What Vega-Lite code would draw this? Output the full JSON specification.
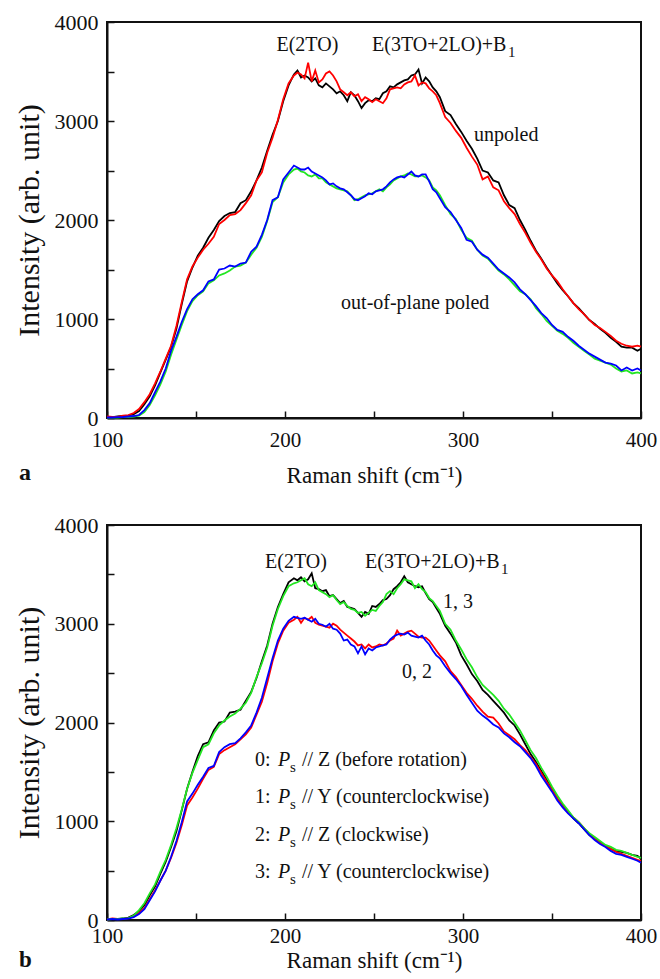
{
"$schema": "https://vega.github.io/schema/vega-lite/v6.json",
"padding": {"left": 13, "top": 10, "right": 8, "bottom": 2},
"spacing": 25,
"config": {
  "view": {"stroke": "#111", "strokeWidth": 2},
  "axis": {"grid": false, "domainColor": "#111", "domainWidth": 2, "tickColor": "#111", "tickWidth": 1.5, "tickSize": -7, "labelFont": "serif", "labelFontSize": 21, "labelColor": "#111", "titleFont": "Times New Roman", "titleFontWeight": "normal", "titleColor": "#111", "labelOverlap": false},
  "text": {"font": "serif", "fontSize": 20, "color": "#111"},
  "title": {"font": "serif"}
},
"datasets": {
"a": [
{"s":"k","x":100,"y":5},{"s":"k","x":103,"y":8},{"s":"k","x":106,"y":15},{"s":"k","x":109,"y":20},{"s":"k","x":112,"y":25},{"s":"k","x":115,"y":40},{"s":"k","x":118,"y":70},{"s":"k","x":121,"y":140},{"s":"k","x":124,"y":220},{"s":"k","x":127,"y":330},{"s":"k","x":130,"y":460},{"s":"k","x":133,"y":590},{"s":"k","x":136,"y":720},{"s":"k","x":139,"y":900},{"s":"k","x":142,"y":1150},{"s":"k","x":145,"y":1380},{"s":"k","x":148,"y":1520},{"s":"k","x":151,"y":1640},{"s":"k","x":154,"y":1720},{"s":"k","x":157,"y":1820},{"s":"k","x":160,"y":1900},{"s":"k","x":163,"y":1990},{"s":"k","x":166,"y":2040},{"s":"k","x":169,"y":2070},{"s":"k","x":172,"y":2080},{"s":"k","x":175,"y":2170},{"s":"k","x":178,"y":2200},{"s":"k","x":181,"y":2290},{"s":"k","x":184,"y":2400},{"s":"k","x":187,"y":2530},{"s":"k","x":190,"y":2700},{"s":"k","x":193,"y":2860},{"s":"k","x":196,"y":3000},{"s":"k","x":199,"y":3200},{"s":"k","x":202,"y":3360},{"s":"k","x":205,"y":3470},
{"s":"k","x":207,"y":3510},{"s":"k","x":209,"y":3440},{"s":"k","x":211,"y":3460},{"s":"k","x":213,"y":3440},{"s":"k","x":215,"y":3400},{"s":"k","x":217,"y":3430},{"s":"k","x":219,"y":3360},{"s":"k","x":221,"y":3340},{"s":"k","x":223,"y":3380},{"s":"k","x":225,"y":3350},{"s":"k","x":227,"y":3320},{"s":"k","x":229,"y":3280},{"s":"k","x":231,"y":3300},{"s":"k","x":233,"y":3260},{"s":"k","x":235,"y":3200},{"s":"k","x":237,"y":3290},{"s":"k","x":239,"y":3260},{"s":"k","x":241,"y":3200},{"s":"k","x":243,"y":3130},{"s":"k","x":245,"y":3180},{"s":"k","x":247,"y":3210},{"s":"k","x":249,"y":3200},{"s":"k","x":251,"y":3230},{"s":"k","x":253,"y":3220},{"s":"k","x":255,"y":3280},{"s":"k","x":257,"y":3300},{"s":"k","x":259,"y":3350},{"s":"k","x":261,"y":3340},{"s":"k","x":263,"y":3370},{"s":"k","x":265,"y":3390},{"s":"k","x":267,"y":3410},{"s":"k","x":269,"y":3420},{"s":"k","x":271,"y":3460},{"s":"k","x":273,"y":3470},{"s":"k","x":275,"y":3520},{"s":"k","x":277,"y":3380},{"s":"k","x":279,"y":3440},{"s":"k","x":281,"y":3400},{"s":"k","x":283,"y":3340},{"s":"k","x":285,"y":3300},{"s":"k","x":287,"y":3240},
{"s":"k","x":290,"y":3100},{"s":"k","x":293,"y":3060},{"s":"k","x":296,"y":2970},{"s":"k","x":299,"y":2890},{"s":"k","x":302,"y":2800},{"s":"k","x":305,"y":2720},{"s":"k","x":308,"y":2620},{"s":"k","x":311,"y":2500},{"s":"k","x":314,"y":2480},{"s":"k","x":317,"y":2400},{"s":"k","x":320,"y":2380},{"s":"k","x":323,"y":2250},{"s":"k","x":326,"y":2150},{"s":"k","x":329,"y":2120},{"s":"k","x":332,"y":2000},{"s":"k","x":335,"y":1900},{"s":"k","x":338,"y":1790},{"s":"k","x":341,"y":1690},{"s":"k","x":344,"y":1610},{"s":"k","x":347,"y":1520},{"s":"k","x":350,"y":1440},{"s":"k","x":353,"y":1360},{"s":"k","x":356,"y":1290},{"s":"k","x":359,"y":1230},{"s":"k","x":362,"y":1160},{"s":"k","x":365,"y":1110},{"s":"k","x":368,"y":1050},{"s":"k","x":371,"y":990},{"s":"k","x":374,"y":950},{"s":"k","x":377,"y":900},{"s":"k","x":380,"y":860},{"s":"k","x":383,"y":810},{"s":"k","x":386,"y":770},{"s":"k","x":389,"y":720},{"s":"k","x":392,"y":710},{"s":"k","x":395,"y":710},{"s":"k","x":398,"y":680},{"s":"k","x":400,"y":700},
{"s":"g","x":100,"y":5},{"s":"g","x":103,"y":3},{"s":"g","x":106,"y":5},{"s":"g","x":109,"y":8},{"s":"g","x":112,"y":10},{"s":"g","x":115,"y":15},{"s":"g","x":118,"y":25},{"s":"g","x":121,"y":60},{"s":"g","x":124,"y":130},{"s":"g","x":127,"y":230},{"s":"g","x":130,"y":340},{"s":"g","x":133,"y":470},{"s":"g","x":136,"y":640},{"s":"g","x":139,"y":790},{"s":"g","x":142,"y":940},{"s":"g","x":145,"y":1080},{"s":"g","x":148,"y":1180},{"s":"g","x":151,"y":1240},{"s":"g","x":154,"y":1280},{"s":"g","x":157,"y":1360},{"s":"g","x":160,"y":1390},{"s":"g","x":163,"y":1440},{"s":"g","x":166,"y":1460},{"s":"g","x":169,"y":1490},{"s":"g","x":172,"y":1530},{"s":"g","x":175,"y":1540},{"s":"g","x":178,"y":1570},{"s":"g","x":181,"y":1650},{"s":"g","x":184,"y":1720},{"s":"g","x":187,"y":1830},{"s":"g","x":190,"y":1990},{"s":"g","x":193,"y":2180},{"s":"g","x":196,"y":2230},{"s":"g","x":199,"y":2380},{"s":"g","x":202,"y":2460},{"s":"g","x":205,"y":2510},
{"s":"g","x":207,"y":2520},{"s":"g","x":209,"y":2490},{"s":"g","x":211,"y":2480},{"s":"g","x":213,"y":2450},{"s":"g","x":215,"y":2440},{"s":"g","x":217,"y":2460},{"s":"g","x":219,"y":2420},{"s":"g","x":221,"y":2420},{"s":"g","x":223,"y":2380},{"s":"g","x":225,"y":2360},{"s":"g","x":227,"y":2340},{"s":"g","x":229,"y":2320},{"s":"g","x":231,"y":2310},{"s":"g","x":233,"y":2300},{"s":"g","x":235,"y":2290},{"s":"g","x":237,"y":2250},{"s":"g","x":239,"y":2200},{"s":"g","x":241,"y":2210},{"s":"g","x":243,"y":2230},{"s":"g","x":245,"y":2250},{"s":"g","x":247,"y":2260},{"s":"g","x":249,"y":2270},{"s":"g","x":251,"y":2290},{"s":"g","x":253,"y":2310},{"s":"g","x":255,"y":2290},{"s":"g","x":257,"y":2330},{"s":"g","x":259,"y":2360},{"s":"g","x":261,"y":2400},{"s":"g","x":263,"y":2420},{"s":"g","x":265,"y":2440},{"s":"g","x":267,"y":2450},{"s":"g","x":269,"y":2470},{"s":"g","x":271,"y":2460},{"s":"g","x":273,"y":2440},{"s":"g","x":275,"y":2440},{"s":"g","x":277,"y":2450},{"s":"g","x":279,"y":2430},{"s":"g","x":281,"y":2400},{"s":"g","x":283,"y":2330},{"s":"g","x":285,"y":2300},{"s":"g","x":287,"y":2250},
{"s":"g","x":290,"y":2150},{"s":"g","x":293,"y":2060},{"s":"g","x":296,"y":2010},{"s":"g","x":299,"y":1900},{"s":"g","x":302,"y":1820},{"s":"g","x":305,"y":1790},{"s":"g","x":308,"y":1700},{"s":"g","x":311,"y":1640},{"s":"g","x":314,"y":1610},{"s":"g","x":317,"y":1550},{"s":"g","x":320,"y":1490},{"s":"g","x":323,"y":1450},{"s":"g","x":326,"y":1400},{"s":"g","x":329,"y":1340},{"s":"g","x":332,"y":1280},{"s":"g","x":335,"y":1250},{"s":"g","x":338,"y":1200},{"s":"g","x":341,"y":1110},{"s":"g","x":344,"y":1050},{"s":"g","x":347,"y":980},{"s":"g","x":350,"y":930},{"s":"g","x":353,"y":880},{"s":"g","x":356,"y":850},{"s":"g","x":359,"y":810},{"s":"g","x":362,"y":760},{"s":"g","x":365,"y":720},{"s":"g","x":368,"y":680},{"s":"g","x":371,"y":640},{"s":"g","x":374,"y":600},{"s":"g","x":377,"y":580},{"s":"g","x":380,"y":560},{"s":"g","x":383,"y":540},{"s":"g","x":386,"y":500},{"s":"g","x":389,"y":470},{"s":"g","x":392,"y":480},{"s":"g","x":395,"y":450},{"s":"g","x":398,"y":460},{"s":"g","x":400,"y":450},
{"s":"r","x":100,"y":15},{"s":"r","x":103,"y":10},{"s":"r","x":106,"y":12},{"s":"r","x":109,"y":25},{"s":"r","x":112,"y":30},{"s":"r","x":115,"y":50},{"s":"r","x":118,"y":90},{"s":"r","x":121,"y":160},{"s":"r","x":124,"y":240},{"s":"r","x":127,"y":350},{"s":"r","x":130,"y":470},{"s":"r","x":133,"y":600},{"s":"r","x":136,"y":730},{"s":"r","x":139,"y":930},{"s":"r","x":142,"y":1170},{"s":"r","x":145,"y":1400},{"s":"r","x":148,"y":1530},{"s":"r","x":151,"y":1620},{"s":"r","x":154,"y":1700},{"s":"r","x":157,"y":1760},{"s":"r","x":160,"y":1830},{"s":"r","x":163,"y":1960},{"s":"r","x":166,"y":2000},{"s":"r","x":169,"y":2050},{"s":"r","x":172,"y":2060},{"s":"r","x":175,"y":2100},{"s":"r","x":178,"y":2170},{"s":"r","x":181,"y":2250},{"s":"r","x":184,"y":2400},{"s":"r","x":187,"y":2480},{"s":"r","x":190,"y":2680},{"s":"r","x":193,"y":2830},{"s":"r","x":196,"y":3010},{"s":"r","x":199,"y":3220},{"s":"r","x":202,"y":3380},{"s":"r","x":205,"y":3460},
{"s":"r","x":207,"y":3490},{"s":"r","x":209,"y":3470},{"s":"r","x":211,"y":3430},{"s":"r","x":213,"y":3590},{"s":"r","x":215,"y":3400},{"s":"r","x":217,"y":3510},{"s":"r","x":219,"y":3390},{"s":"r","x":221,"y":3420},{"s":"r","x":223,"y":3480},{"s":"r","x":225,"y":3500},{"s":"r","x":227,"y":3460},{"s":"r","x":229,"y":3400},{"s":"r","x":231,"y":3320},{"s":"r","x":233,"y":3290},{"s":"r","x":235,"y":3260},{"s":"r","x":237,"y":3290},{"s":"r","x":239,"y":3250},{"s":"r","x":241,"y":3270},{"s":"r","x":243,"y":3200},{"s":"r","x":245,"y":3240},{"s":"r","x":247,"y":3220},{"s":"r","x":249,"y":3190},{"s":"r","x":251,"y":3220},{"s":"r","x":253,"y":3200},{"s":"r","x":255,"y":3180},{"s":"r","x":257,"y":3230},{"s":"r","x":259,"y":3320},{"s":"r","x":261,"y":3330},{"s":"r","x":263,"y":3340},{"s":"r","x":265,"y":3330},{"s":"r","x":267,"y":3370},{"s":"r","x":269,"y":3390},{"s":"r","x":271,"y":3400},{"s":"r","x":273,"y":3460},{"s":"r","x":275,"y":3360},{"s":"r","x":277,"y":3390},{"s":"r","x":279,"y":3380},{"s":"r","x":281,"y":3330},{"s":"r","x":283,"y":3300},{"s":"r","x":285,"y":3260},{"s":"r","x":287,"y":3180},
{"s":"r","x":290,"y":3040},{"s":"r","x":293,"y":2980},{"s":"r","x":296,"y":2900},{"s":"r","x":299,"y":2830},{"s":"r","x":302,"y":2730},{"s":"r","x":305,"y":2640},{"s":"r","x":308,"y":2560},{"s":"r","x":311,"y":2410},{"s":"r","x":314,"y":2440},{"s":"r","x":317,"y":2330},{"s":"r","x":320,"y":2300},{"s":"r","x":323,"y":2190},{"s":"r","x":326,"y":2120},{"s":"r","x":329,"y":2060},{"s":"r","x":332,"y":1960},{"s":"r","x":335,"y":1870},{"s":"r","x":338,"y":1770},{"s":"r","x":341,"y":1680},{"s":"r","x":344,"y":1600},{"s":"r","x":347,"y":1510},{"s":"r","x":350,"y":1440},{"s":"r","x":353,"y":1380},{"s":"r","x":356,"y":1300},{"s":"r","x":359,"y":1230},{"s":"r","x":362,"y":1160},{"s":"r","x":365,"y":1100},{"s":"r","x":368,"y":1050},{"s":"r","x":371,"y":990},{"s":"r","x":374,"y":940},{"s":"r","x":377,"y":910},{"s":"r","x":380,"y":870},{"s":"r","x":383,"y":830},{"s":"r","x":386,"y":780},{"s":"r","x":389,"y":750},{"s":"r","x":392,"y":730},{"s":"r","x":395,"y":720},{"s":"r","x":398,"y":730},{"s":"r","x":400,"y":720},
{"s":"b","x":100,"y":5},{"s":"b","x":103,"y":5},{"s":"b","x":106,"y":8},{"s":"b","x":109,"y":10},{"s":"b","x":112,"y":15},{"s":"b","x":115,"y":20},{"s":"b","x":118,"y":30},{"s":"b","x":121,"y":80},{"s":"b","x":124,"y":150},{"s":"b","x":127,"y":260},{"s":"b","x":130,"y":370},{"s":"b","x":133,"y":500},{"s":"b","x":136,"y":680},{"s":"b","x":139,"y":820},{"s":"b","x":142,"y":970},{"s":"b","x":145,"y":1100},{"s":"b","x":148,"y":1200},{"s":"b","x":151,"y":1250},{"s":"b","x":154,"y":1290},{"s":"b","x":157,"y":1380},{"s":"b","x":160,"y":1400},{"s":"b","x":163,"y":1500},{"s":"b","x":166,"y":1510},{"s":"b","x":169,"y":1540},{"s":"b","x":172,"y":1530},{"s":"b","x":175,"y":1560},{"s":"b","x":178,"y":1570},{"s":"b","x":181,"y":1680},{"s":"b","x":184,"y":1730},{"s":"b","x":187,"y":1850},{"s":"b","x":190,"y":2000},{"s":"b","x":193,"y":2200},{"s":"b","x":196,"y":2230},{"s":"b","x":199,"y":2410},{"s":"b","x":202,"y":2480},{"s":"b","x":205,"y":2550},
{"s":"b","x":207,"y":2530},{"s":"b","x":209,"y":2510},{"s":"b","x":211,"y":2510},{"s":"b","x":213,"y":2530},{"s":"b","x":215,"y":2490},{"s":"b","x":217,"y":2470},{"s":"b","x":219,"y":2450},{"s":"b","x":221,"y":2430},{"s":"b","x":223,"y":2400},{"s":"b","x":225,"y":2360},{"s":"b","x":227,"y":2370},{"s":"b","x":229,"y":2340},{"s":"b","x":231,"y":2320},{"s":"b","x":233,"y":2310},{"s":"b","x":235,"y":2280},{"s":"b","x":237,"y":2250},{"s":"b","x":239,"y":2210},{"s":"b","x":241,"y":2200},{"s":"b","x":243,"y":2220},{"s":"b","x":245,"y":2240},{"s":"b","x":247,"y":2270},{"s":"b","x":249,"y":2260},{"s":"b","x":251,"y":2290},{"s":"b","x":253,"y":2300},{"s":"b","x":255,"y":2310},{"s":"b","x":257,"y":2340},{"s":"b","x":259,"y":2380},{"s":"b","x":261,"y":2410},{"s":"b","x":263,"y":2430},{"s":"b","x":265,"y":2440},{"s":"b","x":267,"y":2430},{"s":"b","x":269,"y":2460},{"s":"b","x":271,"y":2490},{"s":"b","x":273,"y":2450},{"s":"b","x":275,"y":2440},{"s":"b","x":277,"y":2460},{"s":"b","x":279,"y":2460},{"s":"b","x":281,"y":2390},{"s":"b","x":283,"y":2310},{"s":"b","x":285,"y":2280},{"s":"b","x":287,"y":2220},
{"s":"b","x":290,"y":2130},{"s":"b","x":293,"y":2080},{"s":"b","x":296,"y":2000},{"s":"b","x":299,"y":1920},{"s":"b","x":302,"y":1800},{"s":"b","x":305,"y":1780},{"s":"b","x":308,"y":1700},{"s":"b","x":311,"y":1650},{"s":"b","x":314,"y":1620},{"s":"b","x":317,"y":1560},{"s":"b","x":320,"y":1500},{"s":"b","x":323,"y":1460},{"s":"b","x":326,"y":1420},{"s":"b","x":329,"y":1370},{"s":"b","x":332,"y":1300},{"s":"b","x":335,"y":1250},{"s":"b","x":338,"y":1190},{"s":"b","x":341,"y":1130},{"s":"b","x":344,"y":1060},{"s":"b","x":347,"y":1010},{"s":"b","x":350,"y":940},{"s":"b","x":353,"y":890},{"s":"b","x":356,"y":870},{"s":"b","x":359,"y":820},{"s":"b","x":362,"y":780},{"s":"b","x":365,"y":730},{"s":"b","x":368,"y":690},{"s":"b","x":371,"y":650},{"s":"b","x":374,"y":620},{"s":"b","x":377,"y":590},{"s":"b","x":380,"y":560},{"s":"b","x":383,"y":550},{"s":"b","x":386,"y":530},{"s":"b","x":389,"y":480},{"s":"b","x":392,"y":510},{"s":"b","x":395,"y":480},{"s":"b","x":398,"y":500},{"s":"b","x":400,"y":480}
],
"b": [
{"s":"k","x":100,"y":10},{"s":"k","x":103,"y":5},{"s":"k","x":106,"y":10},{"s":"k","x":109,"y":15},{"s":"k","x":112,"y":25},{"s":"k","x":115,"y":50},{"s":"k","x":118,"y":90},{"s":"k","x":121,"y":150},{"s":"k","x":124,"y":250},{"s":"k","x":127,"y":340},{"s":"k","x":130,"y":470},{"s":"k","x":133,"y":590},{"s":"k","x":136,"y":740},{"s":"k","x":139,"y":900},{"s":"k","x":142,"y":1110},{"s":"k","x":145,"y":1330},{"s":"k","x":148,"y":1500},{"s":"k","x":151,"y":1660},{"s":"k","x":154,"y":1780},{"s":"k","x":157,"y":1800},{"s":"k","x":160,"y":1920},{"s":"k","x":163,"y":2000},{"s":"k","x":166,"y":2010},{"s":"k","x":169,"y":2100},{"s":"k","x":172,"y":2110},{"s":"k","x":175,"y":2130},{"s":"k","x":178,"y":2220},{"s":"k","x":181,"y":2310},{"s":"k","x":184,"y":2450},{"s":"k","x":187,"y":2620},{"s":"k","x":190,"y":2780},{"s":"k","x":193,"y":3000},{"s":"k","x":196,"y":3170},{"s":"k","x":199,"y":3300},{"s":"k","x":202,"y":3420},{"s":"k","x":205,"y":3460},
{"s":"k","x":207,"y":3440},{"s":"k","x":209,"y":3470},{"s":"k","x":211,"y":3430},{"s":"k","x":213,"y":3450},{"s":"k","x":215,"y":3510},{"s":"k","x":217,"y":3360},{"s":"k","x":219,"y":3350},{"s":"k","x":221,"y":3330},{"s":"k","x":223,"y":3340},{"s":"k","x":225,"y":3280},{"s":"k","x":227,"y":3290},{"s":"k","x":229,"y":3250},{"s":"k","x":231,"y":3210},{"s":"k","x":233,"y":3230},{"s":"k","x":235,"y":3170},{"s":"k","x":237,"y":3160},{"s":"k","x":239,"y":3150},{"s":"k","x":241,"y":3110},{"s":"k","x":243,"y":3070},{"s":"k","x":245,"y":3120},{"s":"k","x":247,"y":3100},{"s":"k","x":249,"y":3180},{"s":"k","x":251,"y":3170},{"s":"k","x":253,"y":3200},{"s":"k","x":255,"y":3240},{"s":"k","x":257,"y":3250},{"s":"k","x":259,"y":3290},{"s":"k","x":261,"y":3350},{"s":"k","x":263,"y":3380},{"s":"k","x":265,"y":3420},{"s":"k","x":267,"y":3480},{"s":"k","x":269,"y":3420},{"s":"k","x":271,"y":3400},{"s":"k","x":273,"y":3380},{"s":"k","x":275,"y":3370},{"s":"k","x":277,"y":3380},{"s":"k","x":279,"y":3310},{"s":"k","x":281,"y":3250},{"s":"k","x":283,"y":3220},{"s":"k","x":285,"y":3160},{"s":"k","x":287,"y":3100},
{"s":"k","x":290,"y":2980},{"s":"k","x":293,"y":2900},{"s":"k","x":296,"y":2810},{"s":"k","x":299,"y":2680},{"s":"k","x":302,"y":2590},{"s":"k","x":305,"y":2490},{"s":"k","x":308,"y":2420},{"s":"k","x":311,"y":2330},{"s":"k","x":314,"y":2280},{"s":"k","x":317,"y":2220},{"s":"k","x":320,"y":2160},{"s":"k","x":323,"y":2100},{"s":"k","x":326,"y":2020},{"s":"k","x":329,"y":1970},{"s":"k","x":332,"y":1880},{"s":"k","x":335,"y":1780},{"s":"k","x":338,"y":1680},{"s":"k","x":341,"y":1600},{"s":"k","x":344,"y":1510},{"s":"k","x":347,"y":1420},{"s":"k","x":350,"y":1330},{"s":"k","x":353,"y":1230},{"s":"k","x":356,"y":1160},{"s":"k","x":359,"y":1100},{"s":"k","x":362,"y":1030},{"s":"k","x":365,"y":980},{"s":"k","x":368,"y":920},{"s":"k","x":371,"y":860},{"s":"k","x":374,"y":820},{"s":"k","x":377,"y":790},{"s":"k","x":380,"y":750},{"s":"k","x":383,"y":720},{"s":"k","x":386,"y":700},{"s":"k","x":389,"y":690},{"s":"k","x":392,"y":680},{"s":"k","x":395,"y":660},{"s":"k","x":398,"y":650},{"s":"k","x":400,"y":620},
{"s":"r","x":100,"y":5},{"s":"r","x":103,"y":15},{"s":"r","x":106,"y":10},{"s":"r","x":109,"y":12},{"s":"r","x":112,"y":20},{"s":"r","x":115,"y":35},{"s":"r","x":118,"y":70},{"s":"r","x":121,"y":120},{"s":"r","x":124,"y":210},{"s":"r","x":127,"y":300},{"s":"r","x":130,"y":400},{"s":"r","x":133,"y":500},{"s":"r","x":136,"y":630},{"s":"r","x":139,"y":780},{"s":"r","x":142,"y":960},{"s":"r","x":145,"y":1160},{"s":"r","x":148,"y":1240},{"s":"r","x":151,"y":1330},{"s":"r","x":154,"y":1430},{"s":"r","x":157,"y":1520},{"s":"r","x":160,"y":1550},{"s":"r","x":163,"y":1680},{"s":"r","x":166,"y":1720},{"s":"r","x":169,"y":1750},{"s":"r","x":172,"y":1780},{"s":"r","x":175,"y":1830},{"s":"r","x":178,"y":1880},{"s":"r","x":181,"y":1950},{"s":"r","x":184,"y":2080},{"s":"r","x":187,"y":2210},{"s":"r","x":190,"y":2400},{"s":"r","x":193,"y":2620},{"s":"r","x":196,"y":2800},{"s":"r","x":199,"y":2930},{"s":"r","x":202,"y":3010},{"s":"r","x":205,"y":3040},
{"s":"r","x":207,"y":3070},{"s":"r","x":209,"y":3010},{"s":"r","x":211,"y":3060},{"s":"r","x":213,"y":3040},{"s":"r","x":215,"y":3070},{"s":"r","x":217,"y":3010},{"s":"r","x":219,"y":2990},{"s":"r","x":221,"y":2980},{"s":"r","x":223,"y":2970},{"s":"r","x":225,"y":2960},{"s":"r","x":227,"y":3000},{"s":"r","x":229,"y":2980},{"s":"r","x":231,"y":2940},{"s":"r","x":233,"y":2910},{"s":"r","x":235,"y":2880},{"s":"r","x":237,"y":2850},{"s":"r","x":239,"y":2820},{"s":"r","x":241,"y":2780},{"s":"r","x":243,"y":2790},{"s":"r","x":245,"y":2750},{"s":"r","x":247,"y":2790},{"s":"r","x":249,"y":2760},{"s":"r","x":251,"y":2770},{"s":"r","x":253,"y":2790},{"s":"r","x":255,"y":2780},{"s":"r","x":257,"y":2800},{"s":"r","x":259,"y":2830},{"s":"r","x":261,"y":2850},{"s":"r","x":263,"y":2930},{"s":"r","x":265,"y":2880},{"s":"r","x":267,"y":2900},{"s":"r","x":269,"y":2920},{"s":"r","x":271,"y":2930},{"s":"r","x":273,"y":2900},{"s":"r","x":275,"y":2870},{"s":"r","x":277,"y":2860},{"s":"r","x":279,"y":2860},{"s":"r","x":281,"y":2830},{"s":"r","x":283,"y":2780},{"s":"r","x":285,"y":2730},{"s":"r","x":287,"y":2680},
{"s":"r","x":290,"y":2620},{"s":"r","x":293,"y":2520},{"s":"r","x":296,"y":2460},{"s":"r","x":299,"y":2380},{"s":"r","x":302,"y":2300},{"s":"r","x":305,"y":2240},{"s":"r","x":308,"y":2170},{"s":"r","x":311,"y":2110},{"s":"r","x":314,"y":2060},{"s":"r","x":317,"y":2050},{"s":"r","x":320,"y":1990},{"s":"r","x":323,"y":1910},{"s":"r","x":326,"y":1870},{"s":"r","x":329,"y":1830},{"s":"r","x":332,"y":1770},{"s":"r","x":335,"y":1720},{"s":"r","x":338,"y":1650},{"s":"r","x":341,"y":1580},{"s":"r","x":344,"y":1490},{"s":"r","x":347,"y":1400},{"s":"r","x":350,"y":1320},{"s":"r","x":353,"y":1230},{"s":"r","x":356,"y":1150},{"s":"r","x":359,"y":1090},{"s":"r","x":362,"y":1040},{"s":"r","x":365,"y":990},{"s":"r","x":368,"y":930},{"s":"r","x":371,"y":870},{"s":"r","x":374,"y":820},{"s":"r","x":377,"y":780},{"s":"r","x":380,"y":750},{"s":"r","x":383,"y":720},{"s":"r","x":386,"y":690},{"s":"r","x":389,"y":670},{"s":"r","x":392,"y":650},{"s":"r","x":395,"y":630},{"s":"r","x":398,"y":610},{"s":"r","x":400,"y":600},
{"s":"g","x":100,"y":5},{"s":"g","x":103,"y":10},{"s":"g","x":106,"y":8},{"s":"g","x":109,"y":15},{"s":"g","x":112,"y":20},{"s":"g","x":115,"y":45},{"s":"g","x":118,"y":100},{"s":"g","x":121,"y":170},{"s":"g","x":124,"y":270},{"s":"g","x":127,"y":360},{"s":"g","x":130,"y":490},{"s":"g","x":133,"y":610},{"s":"g","x":136,"y":760},{"s":"g","x":139,"y":930},{"s":"g","x":142,"y":1120},{"s":"g","x":145,"y":1330},{"s":"g","x":148,"y":1490},{"s":"g","x":151,"y":1620},{"s":"g","x":154,"y":1750},{"s":"g","x":157,"y":1780},{"s":"g","x":160,"y":1890},{"s":"g","x":163,"y":1970},{"s":"g","x":166,"y":2020},{"s":"g","x":169,"y":2060},{"s":"g","x":172,"y":2090},{"s":"g","x":175,"y":2140},{"s":"g","x":178,"y":2200},{"s":"g","x":181,"y":2300},{"s":"g","x":184,"y":2460},{"s":"g","x":187,"y":2600},{"s":"g","x":190,"y":2760},{"s":"g","x":193,"y":2980},{"s":"g","x":196,"y":3150},{"s":"g","x":199,"y":3280},{"s":"g","x":202,"y":3380},{"s":"g","x":205,"y":3410},
{"s":"g","x":207,"y":3420},{"s":"g","x":209,"y":3440},{"s":"g","x":211,"y":3460},{"s":"g","x":213,"y":3400},{"s":"g","x":215,"y":3380},{"s":"g","x":217,"y":3420},{"s":"g","x":219,"y":3340},{"s":"g","x":221,"y":3320},{"s":"g","x":223,"y":3300},{"s":"g","x":225,"y":3270},{"s":"g","x":227,"y":3290},{"s":"g","x":229,"y":3240},{"s":"g","x":231,"y":3200},{"s":"g","x":233,"y":3220},{"s":"g","x":235,"y":3180},{"s":"g","x":237,"y":3150},{"s":"g","x":239,"y":3140},{"s":"g","x":241,"y":3110},{"s":"g","x":243,"y":3120},{"s":"g","x":245,"y":3080},{"s":"g","x":247,"y":3110},{"s":"g","x":249,"y":3140},{"s":"g","x":251,"y":3130},{"s":"g","x":253,"y":3180},{"s":"g","x":255,"y":3220},{"s":"g","x":257,"y":3300},{"s":"g","x":259,"y":3330},{"s":"g","x":261,"y":3300},{"s":"g","x":263,"y":3360},{"s":"g","x":265,"y":3400},{"s":"g","x":267,"y":3450},{"s":"g","x":269,"y":3440},{"s":"g","x":271,"y":3430},{"s":"g","x":273,"y":3360},{"s":"g","x":275,"y":3400},{"s":"g","x":277,"y":3350},{"s":"g","x":279,"y":3320},{"s":"g","x":281,"y":3260},{"s":"g","x":283,"y":3230},{"s":"g","x":285,"y":3180},{"s":"g","x":287,"y":3130},
{"s":"g","x":290,"y":3000},{"s":"g","x":293,"y":2940},{"s":"g","x":296,"y":2830},{"s":"g","x":299,"y":2740},{"s":"g","x":302,"y":2640},{"s":"g","x":305,"y":2560},{"s":"g","x":308,"y":2460},{"s":"g","x":311,"y":2380},{"s":"g","x":314,"y":2330},{"s":"g","x":317,"y":2280},{"s":"g","x":320,"y":2220},{"s":"g","x":323,"y":2140},{"s":"g","x":326,"y":2080},{"s":"g","x":329,"y":2000},{"s":"g","x":332,"y":1920},{"s":"g","x":335,"y":1820},{"s":"g","x":338,"y":1720},{"s":"g","x":341,"y":1640},{"s":"g","x":344,"y":1540},{"s":"g","x":347,"y":1450},{"s":"g","x":350,"y":1350},{"s":"g","x":353,"y":1260},{"s":"g","x":356,"y":1180},{"s":"g","x":359,"y":1110},{"s":"g","x":362,"y":1040},{"s":"g","x":365,"y":990},{"s":"g","x":368,"y":930},{"s":"g","x":371,"y":880},{"s":"g","x":374,"y":840},{"s":"g","x":377,"y":800},{"s":"g","x":380,"y":760},{"s":"g","x":383,"y":740},{"s":"g","x":386,"y":710},{"s":"g","x":389,"y":700},{"s":"g","x":392,"y":680},{"s":"g","x":395,"y":660},{"s":"g","x":398,"y":640},{"s":"g","x":400,"y":630},
{"s":"b","x":100,"y":5},{"s":"b","x":103,"y":10},{"s":"b","x":106,"y":5},{"s":"b","x":109,"y":10},{"s":"b","x":112,"y":15},{"s":"b","x":115,"y":30},{"s":"b","x":118,"y":60},{"s":"b","x":121,"y":110},{"s":"b","x":124,"y":200},{"s":"b","x":127,"y":290},{"s":"b","x":130,"y":400},{"s":"b","x":133,"y":500},{"s":"b","x":136,"y":640},{"s":"b","x":139,"y":800},{"s":"b","x":142,"y":990},{"s":"b","x":145,"y":1200},{"s":"b","x":148,"y":1280},{"s":"b","x":151,"y":1370},{"s":"b","x":154,"y":1450},{"s":"b","x":157,"y":1540},{"s":"b","x":160,"y":1560},{"s":"b","x":163,"y":1700},{"s":"b","x":166,"y":1750},{"s":"b","x":169,"y":1780},{"s":"b","x":172,"y":1790},{"s":"b","x":175,"y":1840},{"s":"b","x":178,"y":1900},{"s":"b","x":181,"y":1970},{"s":"b","x":184,"y":2100},{"s":"b","x":187,"y":2250},{"s":"b","x":190,"y":2450},{"s":"b","x":193,"y":2650},{"s":"b","x":196,"y":2830},{"s":"b","x":199,"y":2950},{"s":"b","x":202,"y":3030},{"s":"b","x":205,"y":3070},
{"s":"b","x":207,"y":3060},{"s":"b","x":209,"y":3050},{"s":"b","x":211,"y":3060},{"s":"b","x":213,"y":3040},{"s":"b","x":215,"y":3020},{"s":"b","x":217,"y":3050},{"s":"b","x":219,"y":3000},{"s":"b","x":221,"y":2990},{"s":"b","x":223,"y":2970},{"s":"b","x":225,"y":3000},{"s":"b","x":227,"y":2950},{"s":"b","x":229,"y":2940},{"s":"b","x":231,"y":2900},{"s":"b","x":233,"y":2830},{"s":"b","x":235,"y":2840},{"s":"b","x":237,"y":2790},{"s":"b","x":239,"y":2770},{"s":"b","x":241,"y":2700},{"s":"b","x":243,"y":2770},{"s":"b","x":245,"y":2690},{"s":"b","x":247,"y":2750},{"s":"b","x":249,"y":2730},{"s":"b","x":251,"y":2760},{"s":"b","x":253,"y":2770},{"s":"b","x":255,"y":2780},{"s":"b","x":257,"y":2790},{"s":"b","x":259,"y":2840},{"s":"b","x":261,"y":2870},{"s":"b","x":263,"y":2890},{"s":"b","x":265,"y":2900},{"s":"b","x":267,"y":2890},{"s":"b","x":269,"y":2910},{"s":"b","x":271,"y":2880},{"s":"b","x":273,"y":2870},{"s":"b","x":275,"y":2860},{"s":"b","x":277,"y":2880},{"s":"b","x":279,"y":2830},{"s":"b","x":281,"y":2790},{"s":"b","x":283,"y":2730},{"s":"b","x":285,"y":2680},{"s":"b","x":287,"y":2650},
{"s":"b","x":290,"y":2570},{"s":"b","x":293,"y":2500},{"s":"b","x":296,"y":2440},{"s":"b","x":299,"y":2370},{"s":"b","x":302,"y":2280},{"s":"b","x":305,"y":2200},{"s":"b","x":308,"y":2120},{"s":"b","x":311,"y":2070},{"s":"b","x":314,"y":2030},{"s":"b","x":317,"y":1980},{"s":"b","x":320,"y":1950},{"s":"b","x":323,"y":1890},{"s":"b","x":326,"y":1850},{"s":"b","x":329,"y":1800},{"s":"b","x":332,"y":1760},{"s":"b","x":335,"y":1700},{"s":"b","x":338,"y":1640},{"s":"b","x":341,"y":1560},{"s":"b","x":344,"y":1460},{"s":"b","x":347,"y":1380},{"s":"b","x":350,"y":1300},{"s":"b","x":353,"y":1210},{"s":"b","x":356,"y":1140},{"s":"b","x":359,"y":1080},{"s":"b","x":362,"y":1030},{"s":"b","x":365,"y":980},{"s":"b","x":368,"y":920},{"s":"b","x":371,"y":860},{"s":"b","x":374,"y":810},{"s":"b","x":377,"y":770},{"s":"b","x":380,"y":740},{"s":"b","x":383,"y":700},{"s":"b","x":386,"y":670},{"s":"b","x":389,"y":660},{"s":"b","x":392,"y":640},{"s":"b","x":395,"y":620},{"s":"b","x":398,"y":600},{"s":"b","x":400,"y":580}
],
"annoA": [{"t":"E(2TO)","x":195.2,"y":3768},{"t":"E(3TO+2LO)+B","x":248.9,"y":3768},{"t":"unpoled","x":306.2,"y":2859},{"t":"out-of-plane poled","x":231.5,"y":1162}],
"subA": [{"t":"1","x":325.3,"y":3768}],
"annoB": [{"t":"E(2TO)","x":188.8,"y":3625},{"t":"E(3TO+2LO)+B","x":245,"y":3625},{"t":"1, 3","x":288.8,"y":3220},{"t":"0, 2","x":265.7,"y":2511}],
"subB": [{"t":"1","x":321.3,"y":3625}],
"legB": [{"n":"0:","r":"// Z (before rotation)","x":183.1,"y":1620},{"n":"1:","r":"// Y (counterclockwise)","x":183.1,"y":1246},{"n":"2:","r":"// Z (clockwise)","x":183.1,"y":861},{"n":"3:","r":"// Y (counterclockwise)","x":183.1,"y":486}]
},
"vconcat": [
{
  "width": 534, "height": 396,
  "title": {"text": "a", "orient": "bottom", "anchor": "start", "frame": "group", "dx": -88, "dy": -30, "fontSize": 24, "fontWeight": "bold", "font": "serif", "color": "#111"},
  "encoding": {
    "x": {"field": "x", "type": "quantitative", "scale": {"domain": [100, 400], "nice": false, "zero": false}, "axis": {"values": [100,150,200,250,300,350,400], "format": "d", "labelExpr": "datum.value % 100 === 0 ? datum.label : ''", "labelFlush": false, "labelPadding": 18, "title": "Raman shift (cm⁻¹)", "titleFontSize": 23, "titlePadding": 14}},
    "y": {"field": "y", "type": "quantitative", "scale": {"domain": [0, 4000], "nice": false}, "axis": {"values": [0,500,1000,1500,2000,2500,3000,3500,4000], "format": "d", "labelExpr": "datum.value % 1000 === 0 ? datum.label : ''", "labelPadding": 16, "labelFontSize": 22, "title": "Intensity (arb. unit)", "titleFontSize": 30, "titlePadding": 10}}
  },
  "layer": [
    {"data": {"name": "a"}, "mark": {"type": "line", "strokeWidth": 1.8}, "encoding": {"color": {"field": "s", "type": "nominal", "scale": {"domain": ["k","g","r","b"], "range": ["#000000","#22e622","#ff0000","#0000ff"]}, "legend": null}}},
    {"data": {"name": "annoA"}, "mark": {"type": "text", "align": "left", "baseline": "middle", "fontSize": 20, "font": "serif"}, "encoding": {"text": {"field": "t"}}},
    {"data": {"name": "subA"}, "mark": {"type": "text", "align": "left", "baseline": "middle", "fontSize": 15, "dy": 7, "font": "serif"}, "encoding": {"text": {"field": "t"}}}
  ]
},
{
  "width": 534, "height": 395,
  "title": {"text": "b", "orient": "bottom", "anchor": "start", "frame": "group", "dx": -88, "dy": -27, "fontSize": 23, "fontWeight": "bold", "font": "serif", "color": "#111"},
  "encoding": {
    "x": {"field": "x", "type": "quantitative", "scale": {"domain": [100, 400], "nice": false, "zero": false}, "axis": {"values": [100,150,200,250,300,350,400], "format": "d", "labelExpr": "datum.value % 100 === 0 ? datum.label : ''", "labelFlush": false, "labelPadding": 12, "title": "Raman shift (cm⁻¹)", "titleFontSize": 23, "titlePadding": 3}},
    "y": {"field": "y", "type": "quantitative", "scale": {"domain": [0, 4000], "nice": false}, "axis": {"values": [0,500,1000,1500,2000,2500,3000,3500,4000], "format": "d", "labelExpr": "datum.value % 1000 === 0 ? datum.label : ''", "labelPadding": 16, "labelFontSize": 22, "title": "Intensity (arb. unit)", "titleFontSize": 30, "titlePadding": 10}}
  },
  "layer": [
    {"data": {"name": "b"}, "mark": {"type": "line", "strokeWidth": 1.8}, "encoding": {"color": {"field": "s", "type": "nominal", "scale": {"domain": ["k","g","r","b"], "range": ["#000000","#22e622","#ff0000","#0000ff"]}, "legend": null}}},
    {"data": {"name": "annoB"}, "mark": {"type": "text", "align": "left", "baseline": "middle", "fontSize": 20, "font": "serif"}, "encoding": {"text": {"field": "t"}}},
    {"data": {"name": "subB"}, "mark": {"type": "text", "align": "left", "baseline": "middle", "fontSize": 15, "dy": 7, "font": "serif"}, "encoding": {"text": {"field": "t"}}},
    {"data": {"name": "legB"}, "mark": {"type": "text", "align": "left", "baseline": "middle", "fontSize": 20, "font": "serif"}, "encoding": {"text": {"field": "n"}}},
    {"data": {"name": "legB"}, "mark": {"type": "text", "align": "left", "baseline": "middle", "fontSize": 20, "font": "serif", "fontStyle": "italic", "text": "P", "dx": 23}, "encoding": {}},
    {"data": {"name": "legB"}, "mark": {"type": "text", "align": "left", "baseline": "middle", "fontSize": 15, "font": "serif", "text": "s", "dx": 35, "dy": 7}, "encoding": {}},
    {"data": {"name": "legB"}, "mark": {"type": "text", "align": "left", "baseline": "middle", "fontSize": 20, "font": "serif", "dx": 47}, "encoding": {"text": {"field": "r"}}}
  ]
}
]
}
